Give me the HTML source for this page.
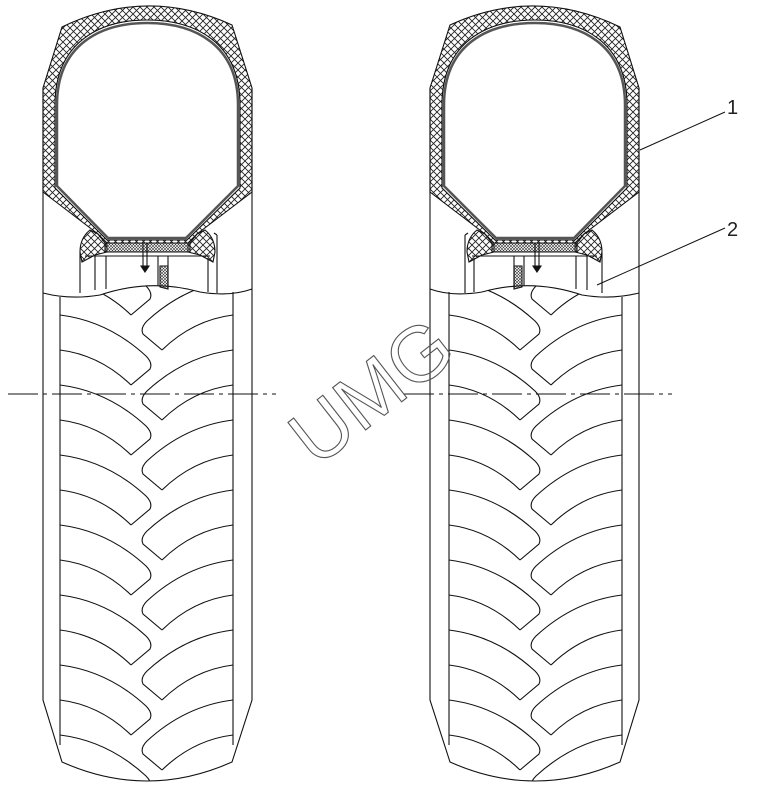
<!DOCTYPE html>
<html><head><meta charset="utf-8"><style>
html,body{margin:0;padding:0;background:#fff;overflow:hidden;width:759px;height:800px;}
svg{display:block;}
</style></head><body>
<svg width="759" height="800" viewBox="0 0 759 800" xmlns="http://www.w3.org/2000/svg">
<defs>
<pattern id="h" patternUnits="userSpaceOnUse" width="7" height="7">
<path d="M0,0 L7,7 M7,0 L0,7" stroke="#222" stroke-width="0.9"/>
</pattern>
<pattern id="h2" patternUnits="userSpaceOnUse" width="3" height="3">
<path d="M0,0 L3,3 M3,0 L0,3" stroke="#333" stroke-width="0.6"/>
</pattern>
<clipPath id="tc">
<path d="M60,297 Q80,299 100,295 Q150,278 200,292 Q220,295 233,292 L233,745 L232,762 Q147,800 62,762 L60,745 Z"/>
</clipPath>
<g id="tire" fill="none" stroke="#111" stroke-width="1.1">
<path fill="url(#h)" fill-rule="evenodd" d="M43,192 L43,88 L62,27 Q147,-14 232,25 L252,88 L252,192 L197,234 L190,243 L105,243 L98,234 Z
M55,188 L55,105 C55,42 100,20 147,20 C195,20 240,42 240,105 L240,188 L187,240 L107,240 Z"/>
<path stroke="#555" stroke-width="2.5" d="M57,186 L57,105 C57,45 100,23 147,23 C195,23 238,45 238,105 L238,186 L186,238 L108,238 Z"/>
<path stroke="#111" stroke-width="0.8" d="M55,188 L55,105 C55,42 100,20 147,20 C195,20 240,42 240,105 L240,188 L187,240 L107,240 Z"/>
<path fill="url(#h)" d="M98,234 L107,243 L107,252 L95,255 L82,262 L80,252 Q80,238 90,230 Z"/>
<path fill="url(#h)" d="M197,234 L188,243 L188,252 L200,255 L213,262 L215,252 Q215,238 205,230 Z"/>
<path fill="url(#h2)" d="M105,243 L190,243 L190,252 L105,252 Z"/>
<path d="M85,256 L210,256"/>
<path d="M80,252 L80,293 M95,256 L95,290 M106,256 L106,289 M158,256 L158,286 M168,256 L168,288 M208,258 L208,292 M217,235 L217,293 M214,233 L217,235"/>
<path fill="url(#h2)" d="M160,266 L168,266 L168,289 L160,287 Z"/>
<path d="M143,243 L143,266 M147,243 L147,266"/>
<path fill="#111" d="M141,266 L149,266 L145,272 Z"/>
<path d="M43,88 L43,700 L62,762 Q147,800 232,762 L252,700 L252,88"/>
<path d="M60,297 L60,745 M233,292 L233,745"/>
<path d="M43,293 Q70,300 100,295 Q150,278 200,292 Q230,297 252,289"/>
<g clip-path="url(#tc)">
<path id="lug" d="M60,0 Q108,6 146,41 Q153,48 150,54 L131,70 M60,35 Q100,40 131,70 M233,-35 Q185,-29 147,6 Q140,13 143,19 L162,35 M233,0 Q193,5 162,35"/>
<use href="#lug" y="245"/><use href="#lug" y="315"/><use href="#lug" y="385"/>
<use href="#lug" y="455"/><use href="#lug" y="525"/><use href="#lug" y="595"/>
<use href="#lug" y="665"/><use href="#lug" y="735"/><use href="#lug" y="805"/>
</g>
</g>
</defs>
<use href="#tire"/>
<g transform="translate(682,0) scale(-1,1)"><use href="#tire"/></g>
<path d="M8,394 L276,394 M404,394 L672,394" stroke="#111" stroke-width="1" stroke-dasharray="30 5 4 5" fill="none"/>
<path d="M725,112 L640,150 M725,228 L597,285" stroke="#111" stroke-width="1" fill="none"/>
<text x="727" y="114" font-family="Liberation Sans, sans-serif" font-size="20" fill="#222">1</text>
<text x="727" y="236" font-family="Liberation Sans, sans-serif" font-size="20" fill="#222">2</text>
<text x="372" y="418" text-anchor="middle" transform="rotate(-38 372 392)" font-family="Liberation Sans, sans-serif" font-size="78" fill="none" stroke="#555" stroke-width="1.1">UMG</text>
</svg>
</body></html>
